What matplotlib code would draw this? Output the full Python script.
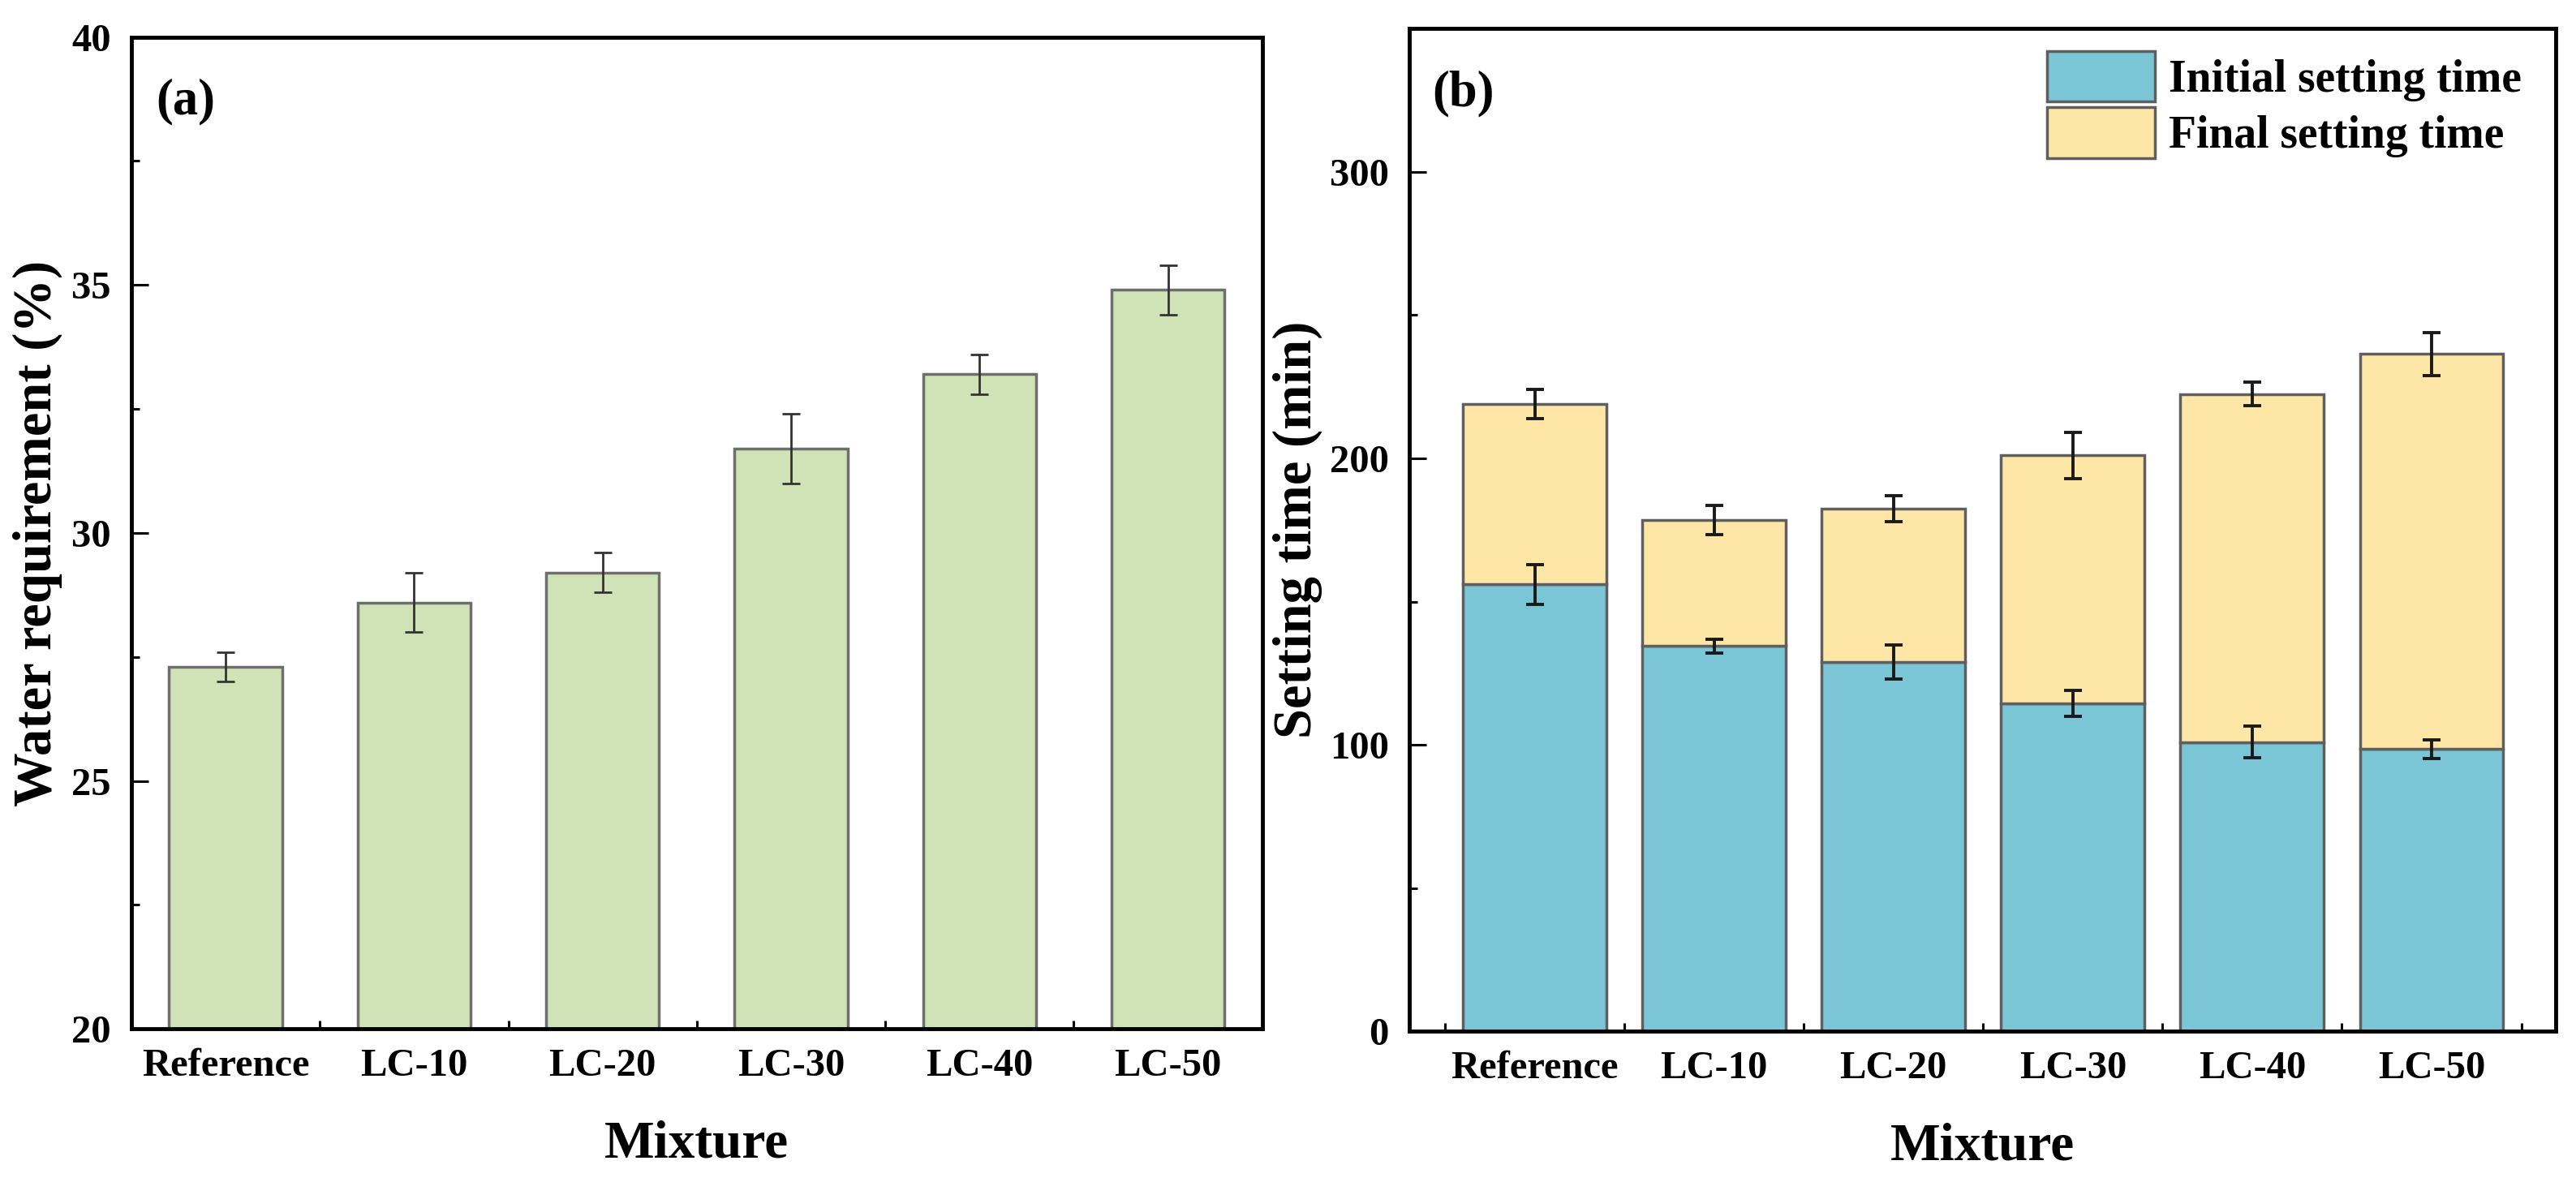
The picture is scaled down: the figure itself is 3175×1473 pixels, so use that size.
import numpy as np
import matplotlib.pyplot as plt
from matplotlib.ticker import MultipleLocator, FixedLocator

plt.rcParams['font.family'] = ['Liberation Serif', 'DejaVu Serif']
plt.rcParams['font.weight'] = 'bold'

mixtures = ["Reference", "LC-10", "LC-20", "LC-30", "LC-40", "LC-50"]

# (a) water requirement
water = [27.3, 28.6, 29.2, 31.7, 33.2, 34.9]
water_err = [0.3, 0.6, 0.4, 0.7, 0.4, 0.5]

# (b) setting time
initial = [156, 134.5, 129, 114.5, 101, 98.5]
initial_err = [7, 2.4, 6, 4.5, 5.5, 3.3]
final = [219, 178.5, 182.5, 201, 222.5, 236.5]
final_err = [5, 5, 4.5, 8, 4, 7.5]

green = "#cfe3b6"
blue = "#7ac5d6"
yellow = "#fee6a7"

fig = plt.figure(figsize=(31.75, 14.73), dpi=100)
axa = fig.add_axes([0.051, 0.139, 0.439, 0.830])
axb = fig.add_axes([0.547, 0.137, 0.445, 0.839])

x = np.arange(len(mixtures))

def style(ax):
    for s in ax.spines.values():
        s.set_linewidth(3.5)
    ax.tick_params(which='both', direction='in', width=2.2, labelsize=35)
    ax.tick_params(which='major', length=15)
    ax.tick_params(which='minor', length=7)
    ax.tick_params(axis='x', pad=17)
    ax.tick_params(axis='y', pad=18)
    ax.tick_params(top=False, right=False, which='both')

# panel (a)
axa.bar(x, water, width=0.6, color=green, edgecolor="#6e6e6e", linewidth=2.5, zorder=2)
axa.errorbar(x, water, yerr=water_err, fmt='none', ecolor="#333333",
             elinewidth=2, capsize=8, capthick=2, zorder=3)
axa.set_xlim(-0.5, 5.5)
axa.set_ylim(20, 40)
axa.yaxis.set_major_locator(MultipleLocator(5))
axa.yaxis.set_minor_locator(MultipleLocator(2.5))
axa.set_xticks(x)
axa.set_xticklabels(mixtures)
axa.xaxis.set_minor_locator(FixedLocator(np.arange(0.5, 5, 1)))
style(axa)
axa.tick_params(axis='x', which='major', length=0)
axa.set_xlabel("Mixture", fontsize=47, fontweight='bold', labelpad=32)
axa.set_ylabel("Water requirement (%)", fontsize=48, fontweight='bold', labelpad=8)
axa.text(0.022, 0.935, "(a)", transform=axa.transAxes, fontsize=45,
         fontweight='bold', va='center', ha='left')

# panel (b)
top_part = [f - i for f, i in zip(final, initial)]
axb.bar(x, initial, width=0.8, color=blue, edgecolor="#5f5f5f", linewidth=2.5,
        zorder=2, label="Initial setting time")
axb.bar(x, top_part, bottom=initial, width=0.8, color=yellow, edgecolor="#5f5f5f",
        linewidth=2.5, zorder=2, label="Final setting time")
axb.errorbar(x, initial, yerr=initial_err, fmt='none', ecolor="#1a1a1a",
             elinewidth=2.8, capsize=8, capthick=2.8, zorder=3)
axb.errorbar(x, final, yerr=final_err, fmt='none', ecolor="#1a1a1a",
             elinewidth=2.8, capsize=8, capthick=2.8, zorder=3)
axb.set_xlim(-0.7, 5.69)
axb.set_ylim(0, 350)
axb.yaxis.set_major_locator(MultipleLocator(100))
axb.yaxis.set_minor_locator(MultipleLocator(50))
axb.set_xticks(x)
axb.set_xticklabels(mixtures)
axb.xaxis.set_minor_locator(FixedLocator(np.arange(-0.5, 6, 1)))
style(axb)
axb.set_xlabel("Mixture", fontsize=47, fontweight='bold', labelpad=32)
axb.set_ylabel("Setting time (min)", fontsize=48, fontweight='bold', labelpad=6)
axb.text(0.02, 0.935, "(b)", transform=axb.transAxes, fontsize=45,
         fontweight='bold', va='center', ha='left')
axb.legend(loc='upper right', bbox_to_anchor=(0.99, 1.0), frameon=False,
           fontsize=40, handlelength=2.4, handleheight=1.35, labelspacing=0.12,
           handletextpad=0.3, borderaxespad=0.3, borderpad=0.2)

fig.savefig("out.png", dpi=100)
